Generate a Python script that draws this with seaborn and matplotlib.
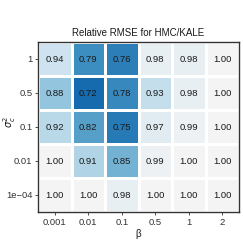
import matplotlib
matplotlib.use('Agg')
import matplotlib.pyplot as plt
from matplotlib.colors import LinearSegmentedColormap
import pandas as pd
import seaborn as sns

# Data
betas = ['0.001', '0.01', '0.1', '0.5', '1', '2']
sigmas = ['1', '0.5', '0.1', '0.01', '1e\u221204']
row_1 = [0.94, 0.79, 0.76, 0.98, 0.98, 1.00]
row_05 = [0.88, 0.72, 0.78, 0.93, 0.98, 1.00]
row_01 = [0.92, 0.82, 0.75, 0.97, 0.99, 1.00]
row_001 = [1.00, 0.91, 0.85, 0.99, 1.00, 1.00]
row_1e4 = [1.00, 1.00, 0.98, 1.00, 1.00, 1.00]

df = pd.DataFrame([row_1, row_05, row_01, row_001, row_1e4], index=sigmas, columns=betas)

sns.set_theme(style='white')
plt.rcParams['font.family'] = ['Liberation Sans', 'DejaVu Sans']

cmap = LinearSegmentedColormap.from_list(
    'blues_mid',
    [(0.0, '#156bad'), (0.29, '#4393c3'), (0.57, '#92c5de'), (0.8, '#d1e5f0'), (1.0, '#f4f4f4')])

fig = plt.figure(figsize=(2.43, 2.42), dpi=100)
ax = fig.add_axes([38 / 243, 1 - 212 / 242, 201 / 243, 170 / 242])

sns.heatmap(df, ax=ax, cmap=cmap, vmin=0.72, vmax=1.0, annot=True, fmt='.2f',
            annot_kws={'color': '#1a1a1a', 'fontsize': 6.8},
            cbar=False, linewidths=1, linecolor='white')

for s in ax.spines.values():
    s.set_visible(True)
    s.set_color('#333333')
    s.set_linewidth(1.0)

ax.set_title('Relative RMSE for HMC/KALE', fontsize=7, pad=4.5, color='#1a1a1a')
ax.set_xlabel('\u03b2', fontsize=7, color='#1a1a1a', labelpad=2)
ax.set_ylabel(r'$\sigma_c^2$', fontsize=7, color='#1a1a1a')
ax.yaxis.set_label_coords(-0.10, 0.53)
ax.tick_params(axis='both', labelsize=6.8, colors='#333333', length=2, width=0.6,
               bottom=True, left=True, pad=2)
plt.setp(ax.get_yticklabels(), rotation=0)
plt.setp(ax.get_xticklabels(), rotation=0)

fig.savefig('out.png', dpi=100)
